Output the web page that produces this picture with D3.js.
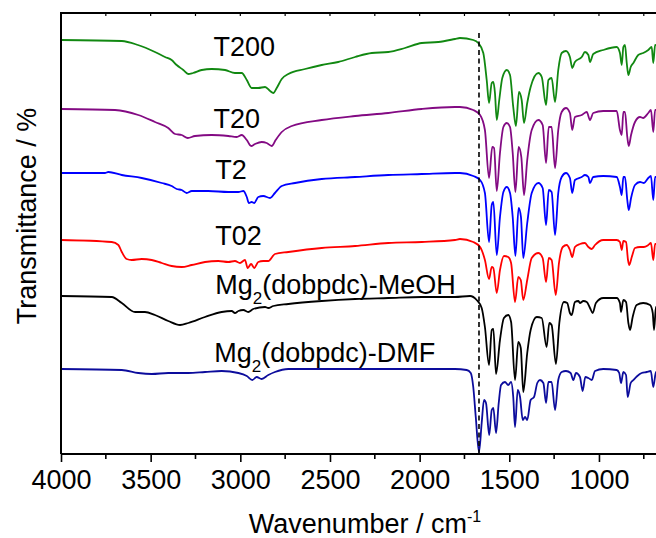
<!DOCTYPE html>
<html>
<head>
<meta charset="utf-8">
<script src="https://cdn.jsdelivr.net/npm/d3@7"></script>
<style>
  html, body { margin: 0; padding: 0; background: #fff; overflow: hidden; }
  svg { display: block; }
  text { font-family: Arial, "Liberation Sans", sans-serif; fill: #000; }
</style>
</head>
<body>
<svg id="chart" width="656" height="538"></svg>
<script>
// FTIR spectra, [wavenumber (cm-1), transmittance (a.u., stacked)]
const t200 = [[4000,41.4],[3661,41.3],[3571,40.9],[3476,40.2],[3420,39.7],[3383,39.4],[3355,38.9],[3318,38.4],[3290,38.0],[3264,38.1],[3215,38.4],[3160,38.5],[3085,38.4],[3030,38.1],[2992,38.1],[2964,37.4],[2937,36.6],[2900,36.6],[2862,36.7],[2834,36.3],[2816,36.1],[2797,36.6],[2769,37.5],[2732,38.0],[2639,38.5],[2546,38.9],[2454,39.2],[2360,39.7],[2267,40.1],[2175,40.2],[2082,40.6],[1988,41.1],[1896,41.2],[1803,41.5],[1775,41.6],[1701,41.4],[1673,41.1],[1645,40.1],[1626,37.4],[1613,35.1],[1598,37.1],[1589,37.2],[1580,36.1],[1570,33.4],[1556,35.4],[1539,37.6],[1514,38.4],[1496,37.9],[1478,34.7],[1463,32.8],[1446,36.2],[1431,35.4],[1418,33.1],[1400,35.1],[1381,36.7],[1338,38.1],[1319,37.7],[1295,34.9],[1282,37.4],[1264,37.6],[1245,35.2],[1227,38.4],[1208,40.1],[1184,40.3],[1162,39.7],[1149,38.6],[1134,39.2],[1096,39.7],[1078,40.2],[1059,39.9],[1050,39.2],[1032,40.0],[976,40.4],[901,40.7],[883,40.1],[873,38.9],[864,40.7],[855,40.9],[845,39.1],[836,37.9],[823,38.7],[808,39.1],[781,39.9],[753,40.1],[725,40.4],[706,40.7],[697,39.1],[687,40.9],[660,40.8]];

const t20 = [[4000,34.5],[3699,34.4],[3569,33.9],[3476,33.2],[3402,32.6],[3364,32.0],[3327,31.9],[3293,31.6],[3253,31.8],[3160,31.9],[3067,31.8],[3020,31.7],[2992,31.9],[2964,31.4],[2940,30.8],[2918,31.0],[2881,31.2],[2853,31.1],[2825,30.8],[2803,31.4],[2769,32.2],[2713,32.8],[2546,33.4],[2360,33.8],[2175,34.1],[1988,34.5],[1803,34.7],[1775,34.7],[1701,34.4],[1663,33.9],[1636,32.4],[1613,27.6],[1595,30.7],[1585,30.6],[1570,26.3],[1552,30.1],[1533,32.7],[1514,33.1],[1496,32.7],[1481,30.1],[1466,26.2],[1448,30.7],[1433,29.7],[1418,25.9],[1400,29.4],[1375,32.4],[1338,33.4],[1314,32.9],[1295,29.1],[1280,32.7],[1264,32.7],[1245,28.6],[1227,32.4],[1208,34.2],[1184,34.6],[1162,34.1],[1149,32.4],[1134,33.7],[1096,33.9],[1068,34.2],[1050,33.4],[1032,34.1],[976,34.3],[901,34.3],[883,32.4],[873,31.9],[864,34.2],[855,34.2],[842,31.7],[834,30.8],[821,31.9],[799,33.2],[771,33.7],[753,33.6],[725,34.1],[710,34.4],[697,32.2],[687,34.4],[660,34.4]];

const t2 = [[4000,28.1],[3755,28.1],[3736,28.2],[3661,27.9],[3550,27.6],[3438,27.1],[3383,26.8],[3355,26.5],[3327,26.4],[3299,26.1],[3271,26.3],[3179,26.3],[3067,26.2],[3011,26.2],[2983,26.3],[2964,25.7],[2952,25.1],[2937,25.2],[2922,25.1],[2900,25.7],[2872,25.8],[2834,25.6],[2807,26.1],[2769,26.8],[2695,27.1],[2546,27.5],[2360,27.7],[2175,27.9],[1988,28.0],[1803,28.1],[1775,28.1],[1701,27.8],[1663,27.4],[1636,26.1],[1613,21.2],[1598,24.9],[1589,25.2],[1570,19.9],[1552,23.7],[1533,26.2],[1514,26.7],[1496,26.1],[1481,23.7],[1466,19.8],[1448,24.6],[1435,23.7],[1422,19.6],[1400,23.1],[1375,26.1],[1338,27.1],[1314,26.6],[1295,22.9],[1280,26.4],[1264,26.2],[1245,21.9],[1227,26.1],[1208,27.7],[1184,28.1],[1162,27.6],[1149,26.1],[1134,27.4],[1096,27.7],[1078,27.9],[1059,27.7],[1050,27.1],[1032,27.7],[976,27.8],[901,27.7],[883,26.7],[873,25.9],[864,27.7],[855,27.7],[842,25.4],[834,24.4],[821,25.6],[799,26.9],[771,27.2],[749,27.1],[725,27.6],[710,27.8],[697,25.4],[687,27.7],[660,27.7]];

const t02 = [[4000,21.4],[3717,21.2],[3680,20.9],[3661,20.2],[3634,19.5],[3606,19.4],[3550,19.5],[3494,19.4],[3438,19.1],[3383,18.8],[3327,18.7],[3271,18.9],[3197,19.2],[3123,19.3],[3067,19.2],[3030,19.3],[3002,19.1],[2974,19.4],[2959,18.6],[2940,19.0],[2922,18.6],[2900,19.2],[2872,19.3],[2844,19.3],[2807,20.0],[2732,20.2],[2546,20.6],[2360,20.8],[2175,21.1],[1988,21.2],[1803,21.4],[1775,21.5],[1701,21.2],[1663,20.7],[1636,19.4],[1613,17.5],[1598,18.7],[1589,18.6],[1570,16.1],[1552,18.4],[1530,19.8],[1506,19.7],[1490,19.1],[1468,15.2],[1450,17.7],[1436,17.4],[1422,15.4],[1400,17.4],[1375,19.6],[1338,20.1],[1314,19.6],[1295,17.2],[1280,19.6],[1264,19.4],[1241,15.9],[1223,19.1],[1202,20.7],[1180,20.9],[1162,20.4],[1149,19.7],[1134,20.7],[1106,21.0],[1078,21.1],[1059,20.7],[1040,20.5],[1022,20.9],[976,21.4],[901,21.4],[883,21.2],[873,20.4],[864,21.3],[849,21.2],[838,19.4],[831,18.9],[817,19.7],[799,20.6],[771,20.7],[749,20.7],[725,20.9],[710,21.1],[697,19.4],[687,21.0],[660,21.0]];

const meoh = [[4000,15.8],[3717,15.7],[3661,15.1],[3587,14.2],[3532,14.2],[3476,13.9],[3402,13.3],[3336,12.9],[3290,13.1],[3197,13.7],[3104,14.2],[3048,14.3],[3030,14.1],[3011,14.3],[2983,14.4],[2956,14.2],[2928,14.5],[2862,14.7],[2844,14.6],[2816,14.8],[2732,15.0],[2546,15.3],[2360,15.5],[2175,15.6],[1988,15.7],[1803,15.7],[1719,15.8],[1682,15.4],[1654,14.6],[1636,12.7],[1613,8.9],[1598,12.4],[1589,12.5],[1574,8.0],[1552,11.4],[1530,13.6],[1506,13.9],[1490,13.2],[1468,7.4],[1450,11.2],[1436,10.6],[1422,6.2],[1400,10.1],[1381,12.4],[1347,13.7],[1319,13.6],[1292,10.7],[1277,13.1],[1264,12.9],[1240,9.0],[1221,13.1],[1195,15.2],[1177,15.1],[1162,14.1],[1152,13.9],[1134,15.2],[1115,15.3],[1106,15.1],[1087,15.3],[1068,15.2],[1050,14.6],[1035,14.1],[1017,15.1],[976,15.6],[901,15.6],[883,15.1],[877,14.2],[864,15.4],[849,15.2],[836,13.1],[827,12.4],[812,13.7],[790,14.9],[753,15.1],[715,14.9],[700,14.1],[693,12.4],[682,14.7],[660,14.8]];

const dmf = [[4000,8.5],[3661,8.4],[3569,8.1],[3494,8.0],[3402,8.1],[3290,8.1],[3197,8.2],[3104,8.3],[3011,8.1],[2964,7.8],[2933,7.4],[2909,7.7],[2881,7.5],[2844,7.9],[2807,8.2],[2732,8.5],[2546,8.5],[2175,8.5],[1803,8.5],[1738,8.4],[1715,8.1],[1701,6.7],[1687,3.7],[1669,0.2],[1654,3.1],[1641,5.4],[1630,5.1],[1612,1.9],[1598,4.4],[1589,4.6],[1574,2.1],[1559,5.1],[1546,6.9],[1524,7.2],[1506,6.9],[1490,7.2],[1478,5.7],[1468,2.7],[1453,6.4],[1440,5.7],[1425,3.4],[1412,3.7],[1400,3.4],[1381,5.4],[1362,5.7],[1344,7.1],[1329,7.4],[1310,7.1],[1295,5.1],[1282,7.2],[1264,7.2],[1245,4.4],[1227,7.4],[1208,8.2],[1184,8.3],[1158,8.1],[1143,7.4],[1128,8.1],[1106,7.7],[1091,6.3],[1076,7.7],[1059,7.6],[1040,7.4],[1022,8.3],[976,8.5],[901,8.4],[887,8.1],[877,7.1],[864,8.2],[849,7.9],[840,5.7],[823,7.1],[808,7.4],[786,7.8],[762,8.1],[734,8.2],[711,8.3],[697,6.7],[682,8.2],[660,8.2]];

const seriesNames  = ["T200", "T20", "T2", "T02", "MeOH", "DMF"];
const seriesColors = ["#118811", "#830a83", "#0000ff", "#ff0000", "#000000", "#0c0c9c"];
// label anchor: [wavenumber, transmittance] for each trace label
const labelAnchors = [[3150, 39.8], [3150, 32.6], [3140, 27.5], [3140, 20.9], [3140, 16.0], [3145, 9.2]];

const majorTicks = [4000, 3500, 3000, 2500, 2000, 1500, 1000];
const minorTicks = [3750, 3250, 2750, 2250, 1750, 1250, 750];
const markerWavenumber = 1669;

const svg = d3.select("#chart");
const mLeft = 61, mTop = 13, mBottom = 454;

const x = d3.scaleLinear().domain([4000, 400]).range([mLeft, mLeft + 3600 * 0.17932]);
const y = d3.scaleLinear().domain([0, 44.1]).range([mBottom, mTop]);

// traces
const traces = [t200, t20, t2, t02, meoh, dmf];
const line = d3.line().x(d => x(d[0])).y(d => y(d[1])).curve(d3.curveMonotoneX);

svg.append("g").selectAll("path").data(traces).join("path")
  .attr("d", line)
  .attr("fill", "none")
  .attr("stroke", (d, i) => seriesColors[i])
  .attr("stroke-width", 1.8)
  .attr("stroke-linejoin", "round");

// dashed marker at the C=O stretch
svg.append("line")
  .attr("x1", x(markerWavenumber)).attr("x2", x(markerWavenumber))
  .attr("y1", y(42.1)).attr("y2", y(0))
  .attr("stroke", "#000").attr("stroke-width", 1.6)
  .attr("stroke-dasharray", "5,3.5");

// frame: top and left
svg.append("line").attr("x1", mLeft).attr("x2", x(400)).attr("y1", mTop).attr("y2", mTop)
  .attr("stroke", "#000").attr("stroke-width", 2);
svg.append("line").attr("x1", mLeft).attr("x2", mLeft).attr("y1", mTop - 1).attr("y2", mBottom)
  .attr("stroke", "#000").attr("stroke-width", 2);

// bottom axis
const xAxis = svg.append("g").attr("transform", `translate(0,${mBottom})`)
  .call(d3.axisBottom(x).tickValues(majorTicks).tickSize(8).tickSizeOuter(0).tickPadding(8).tickFormat(d3.format("d")));
xAxis.select(".domain").attr("stroke-width", 2).attr("d", `M${mLeft},0H${x(400)}`);
xAxis.selectAll(".tick line").attr("stroke-width", 1.6);
xAxis.selectAll(".tick text").attr("font-size", 27).attr("font-family", "Arial, 'Liberation Sans', sans-serif");

svg.append("g").attr("transform", `translate(0,${mBottom})`)
  .selectAll("line").data(minorTicks).join("line")
  .attr("x1", d => x(d)).attr("x2", d => x(d)).attr("y1", 0).attr("y2", 5)
  .attr("stroke", "#000").attr("stroke-width", 1.6);

// top ticks (inward)
svg.append("g").selectAll("line").data(majorTicks.concat(minorTicks)).join("line")
  .attr("x1", d => x(d)).attr("x2", d => x(d)).attr("y1", mTop).attr("y2", mTop + 3)
  .attr("stroke", "#000").attr("stroke-width", 1.2);

// axis titles
const xt = svg.append("text").attr("x", 365).attr("y", 533).attr("text-anchor", "middle").attr("font-size", 27);
xt.append("tspan").text("Wavenumber / cm");
xt.append("tspan").attr("dy", -11).attr("font-size", 16).text("-1");

svg.append("text")
  .attr("transform", "translate(36,216) rotate(-90)")
  .attr("text-anchor", "middle").attr("font-size", 27)
  .text("Transmittance / %");

// trace labels
const labels = svg.append("g").attr("font-size", 27);
function mgLabel(g, suffix) {
  g.append("tspan").text("Mg");
  g.append("tspan").attr("dy", 10).attr("font-size", 17).text("2");
  g.append("tspan").attr("dy", -10).text("(dobpdc)-" + suffix);
}
seriesNames.forEach((name, i) => {
  const t = labels.append("text")
    .attr("x", x(labelAnchors[i][0])).attr("y", y(labelAnchors[i][1]));
  if (name === "MeOH" || name === "DMF") mgLabel(t, name);
  else t.text(name);
});
</script>
</body>
</html>
